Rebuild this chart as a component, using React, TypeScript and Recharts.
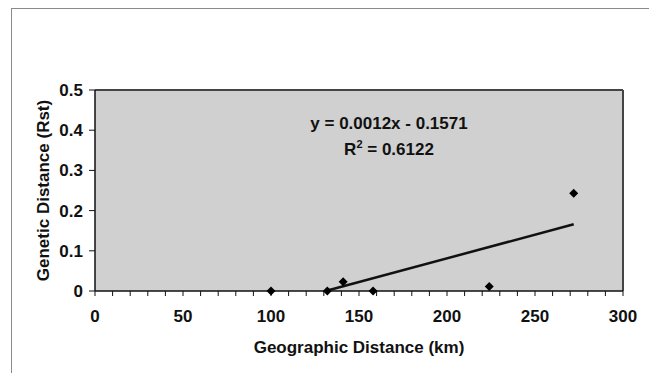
import {
  Scatter,
  ScatterChart,
  XAxis,
  YAxis,
  ReferenceLine,
} from "recharts";

const FONT = "'Liberation Sans', Arial, sans-serif";
const PLOT_BG = "#d0d0d0";

// observed pairs: geographic distance (km) vs genetic distance (Rst)
const geoKm = [100, 132, 141, 158, 224, 272];
const rst = [0.0, 0.0, 0.023, 0.0, 0.011, 0.243];

// linear trend endpoints as drawn on the chart
const trendKm = [131, 272];
const trendRst = [0.0, 0.166];

const xTicks = [
  0, 10, 20, 30, 40, 50, 60, 70, 80, 90, 100, 110, 120, 130, 140, 150, 160,
  170, 180, 190, 200, 210, 220, 230, 240, 250, 260, 270, 280, 290, 300,
];
const yTicks = [0, 0.1, 0.2, 0.3, 0.4, 0.5];

const equation = "y = 0.0012x - 0.1571";
const rSquared = "0.6122";

const points = geoKm.map((x, i) => ({ x, y: rst[i] }));
const trend = trendKm.map((x, i) => ({ x, y: trendRst[i] }));

interface DotProps {
  cx?: number;
  cy?: number;
}

const Diamond = (props: unknown) => {
  const { cx = 0, cy = 0 } = props as DotProps;
  const r = 4.5;
  return (
    <polygon
      points={`${cx},${cy - r} ${cx + r},${cy} ${cx},${cy + r} ${cx - r},${cy}`}
      fill="#000"
    />
  );
};

const NoDot = () => <g />;

interface TickProps {
  x?: number;
  y?: number;
  payload?: { value?: number };
}

const renderXTick = (props: unknown) => {
  const { x = 0, y = 0, payload } = props as TickProps;
  const v = payload?.value ?? 0;
  if (v % 50 !== 0) return <g />;
  return (
    <text
      x={x}
      y={y + 24}
      textAnchor="middle"
      fontFamily={FONT}
      fontWeight={700}
      fontSize={17}
      fill="#111"
    >
      {v}
    </text>
  );
};

const renderYTick = (props: unknown) => {
  const { x = 0, y = 0, payload } = props as TickProps;
  const v = payload?.value ?? 0;
  return (
    <text
      x={x - 4}
      y={y + 6}
      textAnchor="end"
      fontFamily={FONT}
      fontWeight={700}
      fontSize={17}
      fill="#111"
    >
      {v === 0 ? "0" : v.toFixed(1)}
    </text>
  );
};

export default function App() {
  return (
    <div
      style={{
        position: "absolute",
        left: 0,
        top: 0,
        width: 649,
        height: 373,
        background: "#fff",
      }}
    >
      <div
        style={{
          position: "absolute",
          left: 11,
          top: 8,
          width: 640,
          height: 370,
          borderLeft: "1px solid #8a8a8a",
          borderTop: "1px solid #8a8a8a",
        }}
      />
      <ScatterChart
        width={649}
        height={373}
        margin={{ top: 90, right: 26, bottom: 0, left: 0 }}
        style={{ position: "absolute", left: 0, top: 0 }}
      >
        <rect x={95} y={90} width={528} height={201} fill={PLOT_BG} />
        <XAxis
          type="number"
          dataKey="x"
          domain={[0, 300]}
          ticks={xTicks}
          interval={0}
          height={82}
          tick={renderXTick}
          tickSize={5}
          tickLine={{ stroke: "#111" }}
          axisLine={{ stroke: "#111", strokeWidth: 1.5 }}
          label={{
            value: "Geographic Distance (km)",
            position: "insideTop",
            offset: 50,
            style: {
              fontFamily: FONT,
              fontWeight: 700,
              fontSize: 17,
              fill: "#111",
            },
          }}
        />
        <YAxis
          type="number"
          dataKey="y"
          domain={[0, 0.5]}
          ticks={yTicks}
          interval={0}
          width={95}
          tick={renderYTick}
          tickSize={6}
          tickLine={{ stroke: "#111" }}
          axisLine={{ stroke: "#111", strokeWidth: 1.5 }}
          label={{
            value: "Genetic Distance (Rst)",
            angle: -90,
            position: "insideLeft",
            offset: 43,
            style: {
              fontFamily: FONT,
              fontWeight: 700,
              fontSize: 17,
              fill: "#111",
              textAnchor: "middle",
            },
          }}
        />
        <ReferenceLine y={0.5} stroke="#444" strokeWidth={2} />
        <ReferenceLine x={300} stroke="#444" strokeWidth={2} />
        <Scatter
          data={trend}
          line={{ stroke: "#111", strokeWidth: 2.5 }}
          shape={NoDot}
          isAnimationActive={false}
        />
        <Scatter data={points} shape={Diamond} isAnimationActive={false} />
        <text
          x={389}
          y={129}
          textAnchor="middle"
          fontFamily={FONT}
          fontWeight={700}
          fontSize={17}
          fill="#111"
        >
          {equation}
        </text>
        <text
          x={389}
          y={155}
          textAnchor="middle"
          fontFamily={FONT}
          fontWeight={700}
          fontSize={17}
          fill="#111"
        >
          R<tspan dy={-7} fontSize={11}>2</tspan>
          <tspan dy={7}>{` = ${rSquared}`}</tspan>
        </text>
      </ScatterChart>
    </div>
  );
}
